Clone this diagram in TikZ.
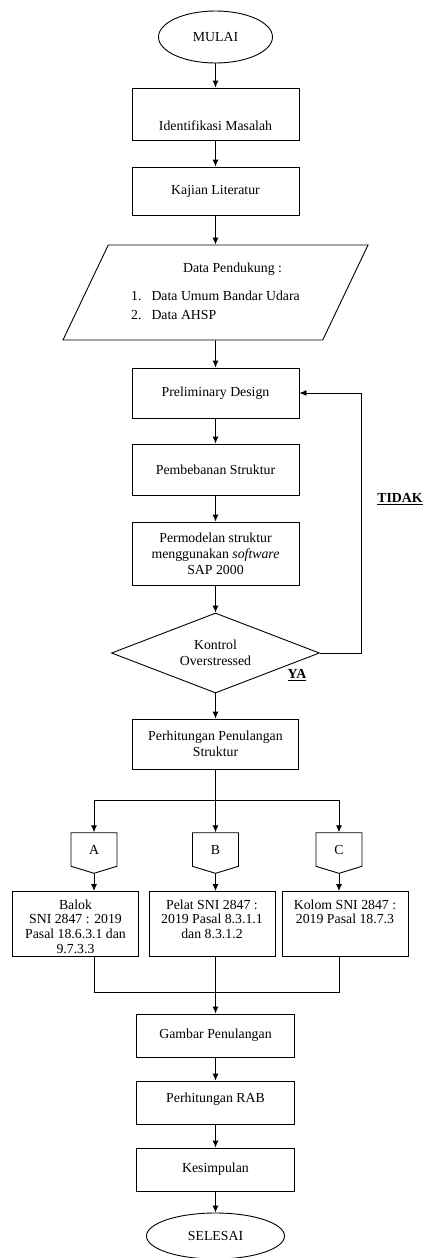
\documentclass[tikz,border=0pt]{standalone}
\usepackage{fontspec}
\setmainfont{Liberation Serif}
\usepackage{tikz}
\usetikzlibrary{positioning}
\usetikzlibrary{shapes,arrows,calc,arrows.meta}

\newcommand{\topcell}[2]{\parbox[c][#1][t]{118pt}{\centering\fontsize{13.8}{14.8}\selectfont\vspace*{4pt}#2}}

\begin{document}
\begin{tikzpicture}[x=1pt, y=-1pt, line width=0.9pt, >={Latex[length=7pt,width=6pt]},
    font=\fontsize{13.8}{16}\selectfont,
    box/.style={draw, rectangle, inner sep=3pt, align=center},
    term/.style={draw, ellipse, inner sep=0pt},
    choice/.style={draw, diamond, aspect=2.6, inner sep=0pt, minimum width=208, minimum height=80, align=center},
    inout/.style={draw, trapezium, trapezium left angle=62, trapezium right angle=118, trapezium stretches=true, minimum width=306, minimum height=95},
    offpage/.style={draw, signal, signal to=south, signal from=nowhere, signal pointer angle=146, minimum width=46, minimum height=35, inner sep=0pt},
    answer/.style={font=\fontsize{13.8}{16}\selectfont\bfseries}]
    \useasboundingbox (0,0) rectangle (425,1258);

    % Nodes
    \node [term, minimum width=114, minimum height=52] (mulai) at (215.5,37) {MULAI};
    \node [box, minimum width=167, minimum height=52, text height=32pt, text depth=0pt] (ident) at (215.5,114) {Identifikasi Masalah};
    \node [box, minimum width=167, minimum height=48] (kajian) at (215.5,191) {Kajian Literatur};
    \node [inout] (data) at (215.5,292.5) {\begin{tabular}{@{}l@{\hspace{10pt}}l@{}}
        \multicolumn{2}{@{}c@{}}{\hspace{34pt}Data Pendukung :}\\[12pt]
        1. & Data Umum Bandar Udara\\[3pt]
        2. & Data AHSP
      \end{tabular}};
    \node [box, minimum width=167, minimum height=50] (prelim) at (215.5,393) {Preliminary Design};
    \node [box, minimum width=167, minimum height=51] (beban) at (215.5,469.5) {Pembebanan Struktur};
    \node [box, minimum width=167, minimum height=63] (model) at (215.5,553.5) {Permodelan struktur\\menggunakan \textit{software}\\SAP 2000};
    \node [choice] (kontrol) at (215.5,653) {Kontrol\\Overstressed};
    \node [answer] (ya) at (297,675) {\underline{YA}};
    \node [answer] (tidak) at (400,499) {\underline{TIDAK}};
    \node [box, minimum width=166, minimum height=50] (hitung) at (215.5,744) {Perhitungan Penulangan\\Struktur};

    \node [offpage] (conA) at (94,849.5) {A};
    \node [offpage] (conB) at (215.5,849.5) {B};
    \node [offpage] (conC) at (339,849.5) {C};

    \node [box, inner sep=4pt] (balok) at (75.5,924) {\topcell{57pt}{Balok\\SNI 2847 : 2019\\Pasal 18.6.3.1 dan\\9.7.3.3}};
    \node [box, inner sep=4pt] (pelat) at (212,924) {\topcell{57pt}{Pelat SNI 2847 :\\2019 Pasal 8.3.1.1\\dan 8.3.1.2}};
    \node [box, inner sep=4pt] (kolom) at (345,924) {\topcell{57pt}{Kolom SNI 2847 :\\2019 Pasal 18.7.3}};

    \node [box, minimum width=158, minimum height=43] (gambar) at (215.5,1035.5) {Gambar Penulangan};
    \node [box, minimum width=158, minimum height=43, text depth=10pt] (rab) at (215.5,1102.5) {Perhitungan RAB};
    \node [box, minimum width=158, minimum height=43] (kesimpulan) at (215.5,1169.5) {Kesimpulan};
    \node [term, minimum width=138, minimum height=46] (selesai) at (215.5,1236) {SELESAI};

    % Arrows
    \draw [->] (mulai) -- (ident);
    \draw [->] (ident) -- (kajian);
    \draw [->] (kajian) -- (data);
    \draw [->] (data) -- (prelim);
    \draw [->] (prelim) -- (beban);
    \draw [->] (beban) -- (model);
    \draw [->] (model) -- (kontrol);
    \draw [->] (kontrol) -- (hitung);
    \draw [->] (kontrol.east) -- ++(41,0) |- (prelim.east);

    \draw (hitung.south) -- ++(0,31) coordinate (split);
    \draw [->] (split) -| (conA.north);
    \draw [->] (split) -- (conB.north);
    \draw [->] (split) -| (conC.north);
    \draw [->] (conA.south) -- (conA.south |- balok.north);
    \draw [->] (conB.south) -- (conB.south |- pelat.north);
    \draw [->] (conC.south) -- (conC.south |- kolom.north);

    \draw (conA |- balok.south) -- ++(0,35) -| (conC |- kolom.south);
    \draw [->] (conB |- pelat.south) -- (conB |- gambar.north);
    \draw [->] (gambar) -- (rab);
    \draw [->] (rab) -- (kesimpulan);
    \draw [->] (kesimpulan) -- (selesai);
  \end{tikzpicture}
\end{document}
